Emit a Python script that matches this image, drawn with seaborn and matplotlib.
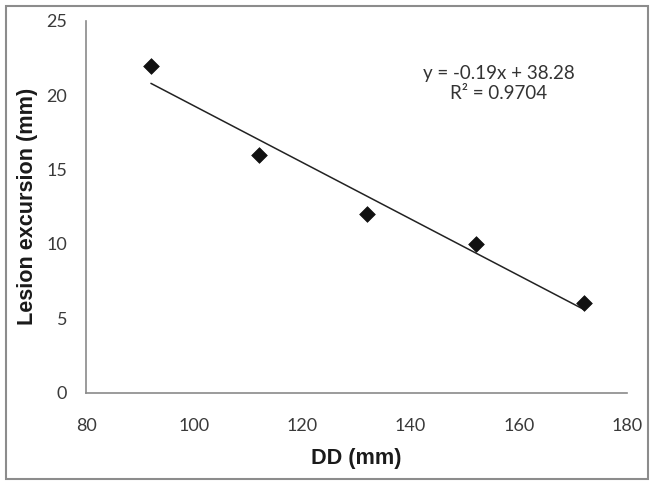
import matplotlib
matplotlib.use("Agg")
import matplotlib.pyplot as plt
import seaborn as sns
import numpy as np
import pandas as pd
from matplotlib.patches import Rectangle

dd_mm = [92, 112, 132, 152, 172]
lesion_excursion = [22, 16, 12, 10, 6]
x_ticks = [80, 100, 120, 140, 160, 180]
y_ticks = [0, 5, 10, 15, 20, 25]
equation_text = "y = -0.19x + 38.28"
r2_text = "R² = 0.9704"

df = pd.DataFrame({"DD": dd_mm, "Lesion": lesion_excursion})

sns.set_style("white")
plt.rcParams["font.family"] = ["Lato", "DejaVu Sans"]

fig = plt.figure(figsize=(6.55, 4.86), dpi=100)
ax = fig.add_axes([0.1313, 0.192, 0.826, 0.765])

sns.regplot(data=df, x="DD", y="Lesion", ax=ax, ci=None, truncate=True,
            marker="D",
            scatter_kws={"s": 64, "color": "#111111", "edgecolor": "#111111", "linewidths": 0.5, "zorder": 3, "alpha": 1},
            line_kws={"color": "#222222", "linewidth": 1.1, "zorder": 2})

ax.set_xlim(80, 180)
ax.set_ylim(0, 25)
ax.set_xticks(x_ticks)
ax.set_yticks(y_ticks)
ax.set_xticklabels([str(t) for t in x_ticks])
ax.set_yticklabels([str(t) for t in y_ticks])

for s in ["top", "right"]:
    ax.spines[s].set_visible(False)
for s in ["left", "bottom"]:
    ax.spines[s].set_color("#8a8a8a")
    ax.spines[s].set_linewidth(1.2)

ax.tick_params(axis="both", direction="inout", length=5, width=1.0, color="#8a8a8a",
               labelsize=13, labelcolor="#3a3a3a")
ax.tick_params(axis="x", pad=16)
ax.tick_params(axis="y", pad=11)

ax.set_xlabel("DD (mm)", fontsize=15.6, fontweight="bold", family=["Liberation Sans", "DejaVu Sans"],
              color="#1a1a1a", labelpad=10)
ax.set_ylabel("Lesion excursion (mm)", fontsize=15.6, fontweight="bold", family=["Liberation Sans", "DejaVu Sans"],
              color="#1a1a1a", labelpad=6)

ax.text(0.763, 0.832, equation_text + "\n" + r2_text, transform=ax.transAxes,
        ha="center", va="center", fontsize=13.5, color="#333333", linespacing=1.2)

fig.patches.append(Rectangle((0.009, 0.014), 0.981, 0.974, transform=fig.transFigure,
                             fill=False, edgecolor="#8c8c8c", linewidth=1.5))

fig.savefig("out.png", dpi=100)
